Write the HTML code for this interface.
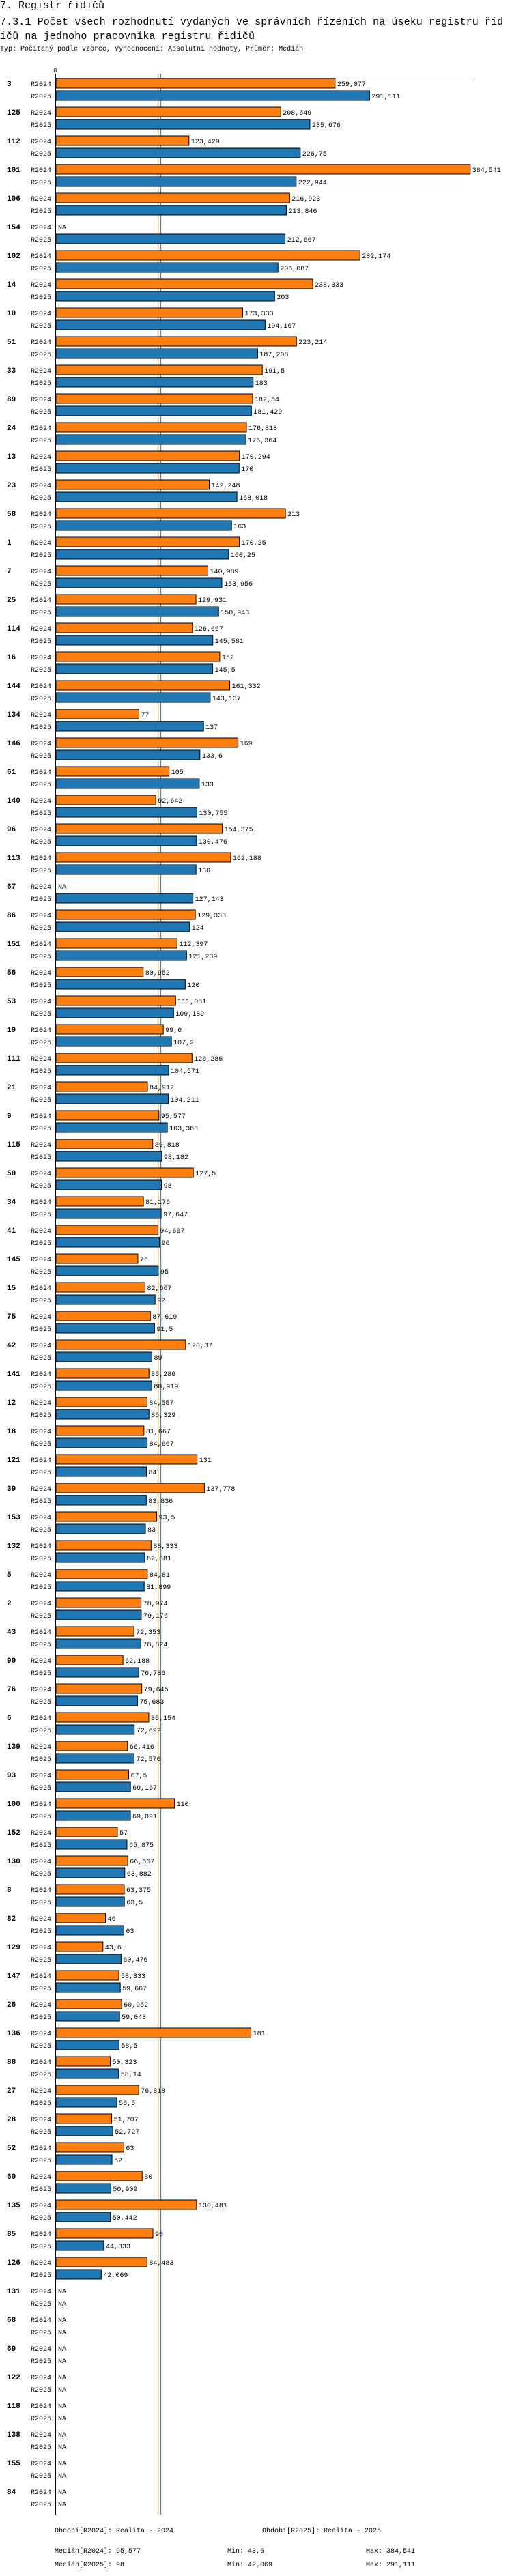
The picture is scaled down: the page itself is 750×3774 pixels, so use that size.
<!DOCTYPE html>
<html><head><meta charset="utf-8">
<style>
html,body{margin:0;padding:0;background:#fff;width:750px;height:3774px;overflow:hidden}
.t{position:absolute;left:0;font-family:"Liberation Mono",monospace;color:#000;white-space:nowrap}
svg text{font-family:"Liberation Mono",monospace}
</style></head>
<body>
<div class="t" style="top:0px;font-size:15px;line-height:17px">7. Registr řidičů</div>
<div class="t" style="top:22px;font-size:15px;line-height:21px;letter-spacing:0.1px">7.3.1 Počet všech rozhodnutí vydaných ve správních řízeních na úseku registru řid<br>ičů na jednoho pracovníka registru řidičů</div>
<div class="t" style="top:67px;font-size:10px">Typ: Počítaný podle vzorce, Vyhodnocení: Absolutní hodnoty, Průměr: Medián</div>
<svg id="chart" width="750" height="3774" style="position:absolute;left:0;top:0" xmlns="http://www.w3.org/2000/svg"></svg>
<script>
const categories=["3","125","112","101","106","154","102","14","10","51","33","89","24","13","23","58","1","7","25","114","16","144","134","146","61","140","96","113","67","86","151","56","53","19","111","21","9","115","50","34","41","145","15","75","42","141","12","18","121","39","153","132","5","2","43","90","76","6","139","93","100","152","130","8","82","129","147","26","136","88","27","28","52","60","135","85","126","131","68","69","122","118","138","155","84"];
const values2024=[259.077,208.649,123.429,384.541,216.923,null,282.174,238.333,173.333,223.214,191.5,182.54,176.818,170.294,142.248,213,170.25,140.989,129.931,126.667,152,161.332,77,169,105,92.642,154.375,162.188,null,129.333,112.397,80.952,111.081,99.6,126.286,84.912,95.577,89.818,127.5,81.176,94.667,76,82.667,87.619,120.37,86.286,84.557,81.667,131,137.778,93.5,88.333,84.81,78.974,72.353,62.188,79.645,86.154,66.416,67.5,110,57,66.667,63.375,46,43.6,58.333,60.952,181,50.323,76.818,51.707,63,80,130.481,90,84.483,null,null,null,null,null,null,null,null];
const values2025=[291.111,235.676,226.75,222.944,213.846,212.667,206.087,203,194.167,187.208,183,181.429,176.364,170,168.018,163,160.25,153.956,150.943,145.581,145.5,143.137,137,133.6,133,130.755,130.476,130,127.143,124,121.239,120,109.189,107.2,104.571,104.211,103.368,98.182,98,97.647,96,95,92,91.5,89,88.919,86.329,84.667,84,83.836,83,82.381,81.899,79.176,78.824,76.786,75.683,72.692,72.576,69.167,69.091,65.875,63.882,63.5,63,60.476,59.667,59.048,58.5,58.14,56.5,52.727,52,50.909,50.442,44.333,42.069,null,null,null,null,null,null,null,null];
const seriesNames=["R2024","R2025"];
const medians=[95.577,98];
const tickLabels=["0"];

const svg=document.getElementById('chart');
const NS='http://www.w3.org/2000/svg';
const X0=82, PX=1.578, Y0=114, PITCH=42;
function xs(v){return X0+v*PX;}
function ys(i){return Y0+i*PITCH;}
function fmt(v){return String(v).replace('.',',');}
function mk(tag,attrs,txt){const e=document.createElementNS(NS,tag);for(const k in attrs)e.setAttribute(k,attrs[k]);if(txt!==undefined)e.textContent=txt;svg.appendChild(e);return e;}
const bottom=ys(categories.length)+0;
const colors=["#ff7f0e","#1f77b4"];
medians.forEach((m,s)=>{
  const l=mk('line',{x1:xs(m)-1,x2:xs(m)-1,y1:108,y2:bottom,stroke:colors[s],'stroke-width':1});
  
  
});
const ta=mk('line',{x1:81,x2:693,y1:114.5,y2:114.5,stroke:'#000','stroke-width':1});


tickLabels.forEach(t=>{
  const e=mk('text',{x:xs(Number(t))-1,y:106,'font-size':9,'text-anchor':'middle'},t);
  
  
});
categories.forEach((c,i)=>{
  const y=ys(i);
  const g=mk('text',{x:10,y:y+12,'font-size':11,'font-weight':'bold'},c);
  
  
  [values2024,values2025].forEach((arr,s)=>{
    const by=y+1+s*18;
    const lab=mk('text',{x:75,y:by+11,'font-size':10,'text-anchor':'end'},seriesNames[s]);
    
    
    const v=arr[i];
    if(v===null){
      const na=mk('text',{x:85,y:by+11,'font-size':10},'NA');
      
      
      return;
    }
    const r=mk('rect',{x:X0,y:by,width:xs(v)-X0,height:14,fill:colors[s],stroke:'#000','stroke-width':1});
    
    
    const vl=mk('text',{x:xs(v)+3,y:by+11,'font-size':10},fmt(v));
    
    
  });
});
const ax=mk('line',{x1:81,x2:81,y1:108,y2:bottom,stroke:'#000','stroke-width':2});


const leg=[[80,3710,"Období[R2024]: Realita - 2024"],[384,3710,"Období[R2025]: Realita - 2025"],
[80,3740,"Medián[R2024]: 95,577"],[333,3740,"Min: 43,6"],[536,3740,"Max: 384,541"],
[80,3760,"Medián[R2025]: 98"],[333,3760,"Min: 42,069"],[536,3760,"Max: 291,111"]];
leg.forEach(l=>{
  const e=mk('text',{x:l[0],y:l[1],'font-size':10},l[2]);
  
  
});
</script>
</body></html>
